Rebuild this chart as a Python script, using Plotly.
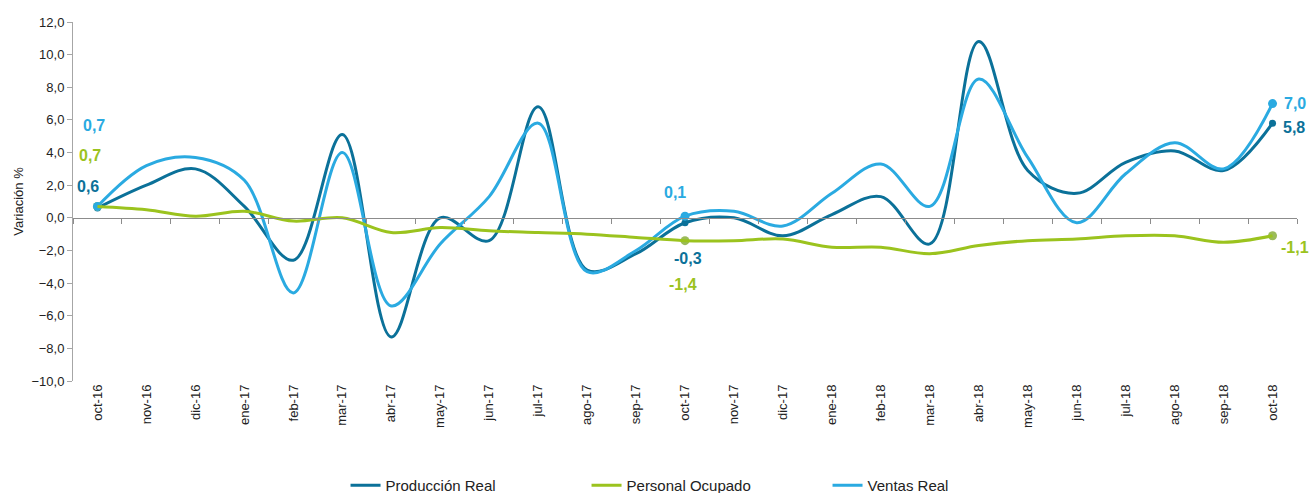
import plotly.graph_objects as go

meses = ["oct-16", "nov-16", "dic-16", "ene-17", "feb-17", "mar-17", "abr-17", "may-17",
         "jun-17", "jul-17", "ago-17", "sep-17", "oct-17", "nov-17", "dic-17", "ene-18",
         "feb-18", "mar-18", "abr-18", "may-18", "jun-18", "jul-18", "ago-18", "sep-18", "oct-18"]

produccion = [0.6, 2.0, 3.0, 0.7, -2.6, 5.1, -7.3, 0.0, -1.4, 6.8, -3.2, -2.2, -0.3,
              0.0, -1.1, 0.2, 1.3, -1.6, 10.8, 2.9, 1.5, 3.4, 4.1, 2.9, 5.8]
personal = [0.7, 0.5, 0.1, 0.4, -0.2, 0.0, -0.9, -0.6, -0.8, -0.9, -1.0, -1.2, -1.4,
            -1.4, -1.3, -1.8, -1.8, -2.2, -1.7, -1.4, -1.3, -1.1, -1.1, -1.5, -1.1]
ventas = [0.7, 3.2, 3.7, 2.3, -4.6, 4.0, -5.4, -1.6, 1.3, 5.8, -3.3, -2.0, 0.1,
          0.4, -0.5, 1.5, 3.3, 0.7, 8.5, 3.7, -0.3, 2.7, 4.6, 3.0, 7.0]

# puntos destacados (oct de cada año)
destacados = [0, 12, 24]

c_prod = "#0B7199"
c_pers = "#9BC31E"
c_vent = "#2AAAE1"

fig = go.Figure()

series = [
    ("Producción Real", produccion, c_prod, c_prod, 7, "x"),
    ("Personal Ocupado", personal, c_pers, "#9BBB59", 9, "x2"),
    ("Ventas Real", ventas, c_vent, c_vent, 9, "x"),
]

for nombre, valores, col, col_m, tam, eje in series:
    fig.add_trace(go.Scatter(
        x=meses, y=valores, name=nombre, mode="lines", xaxis=eje,
        line=dict(color=col, width=3, shape="spline", smoothing=1),
    ))

for nombre, valores, col, col_m, tam, eje in series:
    fig.add_trace(go.Scatter(
        x=[meses[i] for i in destacados], y=[valores[i] for i in destacados],
        mode="markers", showlegend=False, hoverinfo="skip",
        marker=dict(size=tam, color=col_m),
    ))


def fmt(v):
    return f"{v:.1f}".replace(".", ",")


def etiqueta(i, serie, col, **kw):
    return dict(x=meses[i], y=serie[i], text=f"<b>{fmt(serie[i])}</b>", showarrow=False,
                font=dict(color=col, size=16), **kw)


anots = [
    # oct-16
    etiqueta(0, ventas, c_vent, xshift=-3, yshift=81),
    etiqueta(0, personal, c_pers, xshift=-7, yshift=51),
    etiqueta(0, produccion, c_prod, xshift=-9, yshift=22),
    # oct-17
    etiqueta(12, ventas, c_vent, xshift=-10, yshift=24),
    etiqueta(12, produccion, c_prod, xshift=3, yshift=-36),
    etiqueta(12, personal, c_pers, xshift=-2, yshift=-44),
    # oct-18
    etiqueta(24, ventas, c_vent, xanchor="left", xshift=9, yshift=0),
    etiqueta(24, produccion, c_prod, xanchor="left", xshift=8, yshift=-4),
    etiqueta(24, personal, c_pers, xanchor="left", xshift=6, yshift=-12),
]

fig.update_layout(
    width=1309, height=493,
    margin=dict(l=73, r=12, t=22, b=112),
    plot_bgcolor="white", paper_bgcolor="white",
    font=dict(family="Liberation Sans, Arial", size=13, color="#222222"),
    separators=",.",
    showlegend=True,
    legend=dict(orientation="h", x=0.518, xanchor="center",
                yref="container", y=0.015, yanchor="middle",
                font=dict(size=15), entrywidth=196, itemwidth=30),
    xaxis=dict(type="category", categoryorder="array", categoryarray=meses,
               range=[-0.5, 24.5], autorange=False,
               tickangle=-90, tickfont=dict(size=13), showline=False, ticks="",
               showgrid=False, zeroline=False, automargin=False),
    xaxis2=dict(type="category", categoryorder="array", categoryarray=meses,
                matches="x", overlaying="x", anchor="free", position=10 / 22,
                showline=True, linecolor="#8c8c8c", linewidth=1,
                ticks="outside", ticklen=5, tickcolor="#8c8c8c", tickson="boundaries",
                showticklabels=False, showgrid=False, zeroline=False),
    yaxis=dict(range=[-10, 12], dtick=2, tickformat=".1f", automargin=False,
               showline=True, linecolor="#a6a6a6", ticks="outside", ticklen=5,
               tickcolor="#a6a6a6", showgrid=False, zeroline=False,
               title=dict(text="Variación %", font=dict(size=13), standoff=4),
               tickfont=dict(size=13)),
    annotations=anots,
)

# quitar el margen por defecto del body para que la figura ocupe la ventana
fig.write_html("out.html", config={"displayModeBar": False},
               post_script="document.body.style.margin='0';")
